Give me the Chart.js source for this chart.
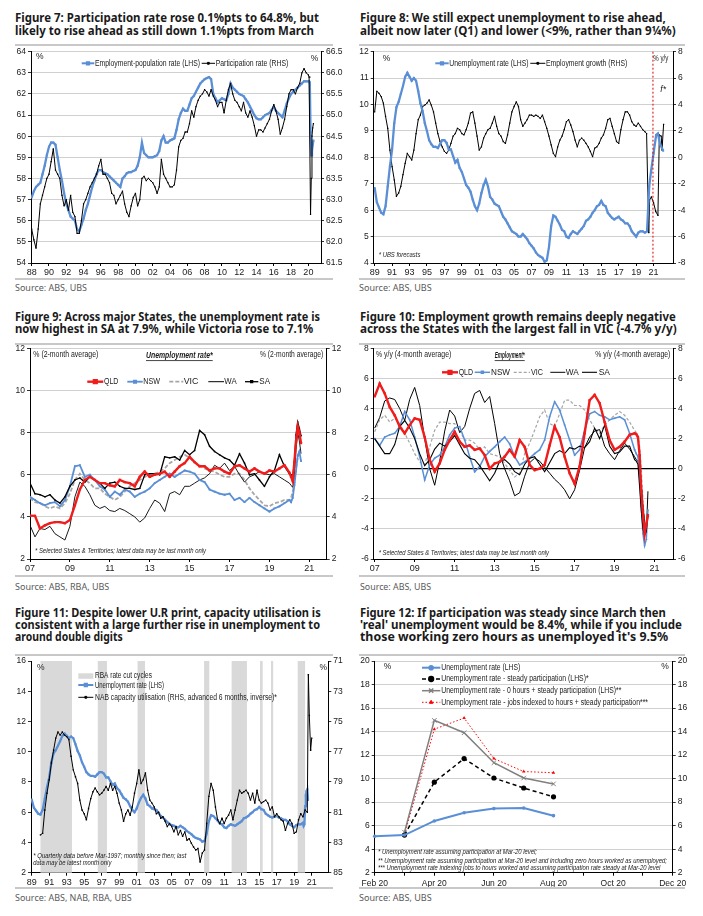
<!DOCTYPE html>
<html lang="en">
<head>
<meta charset="UTF-8">
<title>Australian labour market charts</title>
<script src="https://cdn.jsdelivr.net/npm/chart.js"></script>
<style>
  body { margin: 0; background: #fff; }
  #page { position: relative; width: 703px; height: 916px; overflow: hidden; background: #fff; }
  .title { position: absolute; font-family: 'Noto Sans', Arial, sans-serif; font-weight: 700; font-size: 12.5px; line-height: 14px; color: #1a1a1a; white-space: nowrap; transform-origin: 0 50%; }
  .src { position: absolute; font-family: 'Noto Sans', Arial, sans-serif; font-weight: 400; font-size: 9.5px; line-height: 12px; color: #5a5a5a; white-space: nowrap; transform-origin: 0 50%; }
  .rule { position: absolute; height: 2px; background: #c8c8c8; }
  canvas { position: absolute; }
</style>
</head>
<body>
<div id="page"></div>
<script>
// ---------- Figure 7: quarterly from 1988 Q1, then monthly 2020 ----------
var f7Ticks = [1988, 1990, 1992, 1994, 1996, 1998, 2000, 2002, 2004, 2006, 2008, 2010, 2012, 2014, 2016, 2018, 2020];
var f7EmpPop = [
  57.1, 57.4, 57.6, 57.7, 57.8, 58.2, 58.6, 59.1, 59.5, 59.7, 59.7, 59.6, 59.0, 58.4, 57.9, 57.3,
  56.8, 56.5, 56.2, 56.1, 56.0, 55.6, 55.5, 55.8, 56.1, 56.5, 56.8, 57.2, 57.6, 57.9, 58.2, 58.4,
  58.4, 58.3, 58.25, 58.2, 58.1, 58.0, 57.9, 57.8, 57.7, 57.6, 58.0, 58.1, 58.25, 58.3, 58.3, 58.35,
  58.4, 58.6, 59.0, 59.7, 59.2, 59.1, 59.0, 59.0, 59.0, 59.05, 59.1, 59.3, 59.8, 60.0, 59.7, 59.7,
  59.8, 59.85, 59.9, 60.3, 60.8, 61.1, 61.3, 61.2, 61.2, 61.5, 61.8, 61.9, 62.1, 62.3, 62.5, 62.6,
  62.7, 62.75, 62.8, 62.7, 62.0, 61.8, 61.6, 61.7, 61.8, 61.75, 61.7, 62.0, 62.5, 62.3, 62.2, 62.1,
  62.0, 61.95, 61.9, 61.75, 61.6, 61.4, 61.2, 61.0, 60.85, 60.8, 60.8, 60.9, 61.0, 61.05, 61.1, 61.25,
  61.4, 61.2, 61.1, 61.0, 60.9, 61.2, 61.55, 61.8, 62.0, 62.1, 62.2, 62.3, 62.4, 62.5, 62.6, 62.6
];
var f7EmpPop2020 = [62.6, 62.6, 62.5, 60.2, 59.1, 59.3, 59.6, 59.8];
var f7Part = [
  62.3, 62.05, 61.85, 62.3, 62.9, 63.1, 63.3, 63.5, 63.6, 63.9, 64.2, 63.7, 63.6, 63.5, 63.1, 62.85,
  63.0, 62.75, 63.1, 62.7, 62.6, 62.2, 62.2, 62.5, 62.9, 63.0, 63.15, 63.3, 63.4, 63.5, 63.6, 63.8,
  63.95, 63.6, 63.6, 63.5, 63.4, 63.15, 63.1, 62.9, 63.0, 63.1, 63.2, 62.9, 62.7, 62.6, 62.85, 63.05,
  63.15, 62.85, 63.0, 63.5, 63.55, 63.45, 63.5, 63.45, 63.4, 63.3, 63.15, 63.3, 63.95, 63.6, 63.5, 63.4,
  63.3, 63.3, 63.35, 63.7, 64.25, 64.4, 64.45, 64.6, 64.6, 64.8, 65.1, 64.95, 65.2, 65.35, 65.45, 65.5,
  65.6, 65.55, 65.45, 65.6, 65.45, 65.35, 65.2, 65.3, 65.3, 65.05, 65.35, 65.6, 65.75, 65.5, 65.35, 65.3,
  65.2, 65.1, 65.3, 65.05, 64.95, 65.1, 64.95, 64.75, 64.5, 64.65, 64.65, 64.6, 64.7, 64.8, 64.9, 65.1,
  65.25, 65.1, 64.9, 64.55, 64.7, 64.9, 65.2, 65.5, 65.6, 65.6, 65.5, 65.65, 65.75, 66.0, 66.1, 66.0
];
var f7Part2020 = [65.95, 65.9, 65.9, 62.65, 63.5, 64.5, 64.7, 64.8];

// ---------- Figure 8: quarterly from 1989 Q1, then 2020+ incl. forecasts ----------
var f8Ticks = [1989, 1991, 1993, 1995, 1997, 1999, 2001, 2003, 2005, 2007, 2009, 2011, 2013, 2015, 2017, 2019, 2021];
var f8Ur = [
  6.84, 6.3, 6.1, 5.9, 5.85, 6.15, 6.9, 7.65, 8.3, 9.3, 9.9, 10.1, 10.4, 10.7, 11.05, 11.2,
  11.05, 10.9, 11.0, 10.9, 10.5, 10.05, 9.75, 9.3, 9.0, 8.65, 8.5, 8.4, 8.4, 8.35, 8.5, 8.65,
  8.65, 8.55, 8.3, 8.3, 8.05, 7.8, 7.9, 7.6, 7.45, 7.2, 6.95, 6.85, 6.7, 6.4, 6.15, 6.0,
  6.25, 6.65, 6.95, 7.15, 6.9, 6.5, 6.4, 6.25, 6.2, 6.15, 5.95, 5.75, 5.65, 5.5, 5.35, 5.2,
  5.15, 5.1, 5.0, 5.0, 5.1, 5.0, 4.9, 4.75, 4.65, 4.55, 4.4, 4.3, 4.25, 4.2, 4.05, 4.1,
  4.6, 5.4, 5.8, 5.75, 5.6, 5.45, 5.25, 5.2, 5.0, 4.95, 5.1, 5.2, 5.15, 5.1, 5.2, 5.3,
  5.4, 5.6, 5.65, 5.75, 5.9, 6.0, 6.15, 6.2, 6.35, 6.2, 6.15, 5.9, 5.8, 5.7, 5.65, 5.7,
  5.75, 5.65, 5.6, 5.5, 5.5, 5.4, 5.2, 5.1, 5.0, 5.15, 5.2, 5.2
];
var f8UrTailX = [2020.0, 2020.25, 2020.5, 2020.72, 2021.0, 2021.3, 2021.5, 2021.75, 2022.1];
var f8UrTail = [5.15, 5.2, 6.9, 7.5, 8.15, 8.85, 8.9, 8.5, 8.25];
var f8Emp = [
  3.45, 5.0, 4.85, 4.6, 4.1, 3.1, 2.2, 0.55, -0.7, -1.7, -2.95, -2.7, -2.2, -1.3, -0.45, 0.3,
  0.05, -0.2, 0.55, 1.8, 2.85, 3.2, 3.85, 3.95, 4.1, 4.35, 3.95, 3.45, 2.6, 1.8, 1.2, 0.8,
  0.45, 0.3, 0.55, 1.05, 1.6, 1.8, 2.2, 2.1, 1.8, 1.7, 2.1, 2.6, 3.35, 3.45, 2.6, 1.6,
  0.55, 0.8, 1.45, 1.8, 2.1, 2.2, 2.6, 3.1, 2.35, 1.8, 1.6, 1.2, 1.05, 1.7, 2.6, 3.45,
  3.85, 4.2, 3.85, 2.85, 2.35, 2.6, 2.85, 3.2, 3.2, 3.1, 3.2, 3.1, 2.95, 3.2, 2.7, 2.2,
  1.6, 0.95, 0.3, 0.05, 0.8, 1.3, 1.6, 2.1, 2.7, 2.85, 2.45, 1.95, 1.3, 0.8, 1.3, 1.45,
  1.3, 1.05, 0.8, 0.45, 0.05, 0.7, 0.8, 1.05, 1.45, 1.7, 2.2, 2.85, 2.95, 2.35, 1.8, 1.2,
  1.05, 2.1, 2.85, 3.45, 3.45, 3.2, 2.7, 2.45, 2.35, 2.6, 2.35, 2.1
];
var f8EmpTailX = [2020.0, 2020.2, 2020.45, 2020.55, 2020.75, 2021.0, 2021.25, 2021.5, 2021.66, 2021.88, 2021.97, 2022.15];
var f8EmpTail = [1.95, 1.8, -5.7, -3.2, -3.0, -3.45, -4.1, -4.4, 1.7, 1.6, 0.55, 2.5];
var f8ForecastStart = 2020.93;

// ---------- Figure 9: quarterly from 2007 Q1, then monthly 2020 ----------
var f9Ticks = [2007, 2009, 2011, 2013, 2015, 2017, 2019, 2021];
var f9Qld = [4.06, 4.05, 3.45, 3.6, 3.7, 3.75, 3.75, 3.7, 3.85, 4.55, 5.3, 5.75, 5.9, 5.75, 5.6, 5.6,
  5.5, 5.45, 5.75, 5.65, 5.6, 5.45, 5.9, 6.15, 5.9, 6.0, 6.05, 6.15, 5.9, 6.15, 6.4, 6.55,
  6.85, 6.6, 6.4, 6.4, 6.2, 6.3, 6.3, 6.15, 6.05, 6.4, 6.45, 6.3, 6.15, 6.3, 6.15, 6.05,
  6.2, 6.15, 6.3, 6.45];
var f9Qld2020 = [6.1, 5.9, 5.7, 6.6, 7.6, 8.3, 8.0, 7.5];
var f9Nsw = [4.95, 4.8, 4.65, 4.55, 4.65, 4.7, 4.5, 4.8, 5.45, 6.4, 6.45, 5.9, 6.0, 5.75, 5.45, 5.3,
  4.95, 5.2, 5.05, 5.3, 5.2, 4.95, 5.1, 5.2, 5.35, 5.6, 5.75, 5.9, 6.05, 5.9, 6.05, 6.2,
  6.15, 6.05, 5.75, 5.65, 5.3, 5.2, 5.1, 5.05, 5.1, 4.8, 4.9, 4.7, 4.9, 4.7, 4.55, 4.4,
  4.25, 4.4, 4.5, 4.65];
var f9Nsw2020 = [4.8, 4.7, 4.9, 5.5, 6.2, 6.9, 7.1, 6.65];
var f9Vic = [4.9, 4.7, 4.65, 4.5, 4.4, 4.5, 4.4, 4.65, 5.1, 5.75, 6.05, 5.75, 5.6, 5.35, 5.35, 5.1,
  4.95, 4.8, 4.95, 5.2, 5.45, 5.6, 5.75, 5.9, 6.0, 6.05, 6.15, 6.3, 6.55, 6.7, 6.85, 6.95,
  6.8, 6.6, 6.45, 6.3, 6.2, 6.15, 6.0, 5.9, 5.9, 6.05, 6.05, 5.75, 5.35, 5.05, 4.8, 4.55,
  4.5, 4.65, 4.7, 4.8];
var f9Vic2020 = [4.8, 4.9, 5.2, 5.6, 6.3, 6.8, 7.1, 7.1];
var f9Wa = [3.6, 3.05, 3.45, 3.4, 3.55, 3.2, 3.05, 2.9, 3.55, 4.95, 5.65, 5.45, 5.05, 4.55, 4.4, 4.5,
  4.3, 4.25, 4.4, 4.3, 4.15, 4.0, 3.75, 3.95, 4.4, 4.8, 4.65, 4.25, 5.1, 5.2, 5.05, 5.45,
  5.45, 5.6, 5.75, 5.85, 6.05, 6.45, 6.3, 6.55, 6.2, 6.4, 6.0, 5.65, 5.9, 6.0, 6.15, 6.05,
  6.0, 6.05, 5.9, 5.75];
var f9Wa2020 = [5.6, 5.5, 5.4, 6.0, 7.2, 8.0, 7.6, 7.0];
var f9Sa = [5.6, 5.1, 5.05, 4.95, 5.05, 4.8, 4.65, 4.95, 5.45, 5.75, 5.85, 5.65, 5.9, 5.75, 5.6, 5.35,
  5.6, 5.65, 5.45, 5.35, 5.35, 5.3, 5.35, 6.0, 6.05, 6.05, 6.0, 6.85, 6.8, 6.85, 6.7, 7.15,
  6.95, 7.15, 8.1, 7.9, 7.35, 7.1, 6.95, 6.8, 6.7, 6.45, 7.0, 6.55, 6.0, 6.05, 5.75, 5.45,
  5.9, 6.2, 6.95, 6.4];
var f9Sa2020 = [6.05, 6.0, 5.9, 6.6, 7.9, 8.5, 8.2, 7.85];

// ---------- Figure 10: quarterly from 2007 Q1, then monthly 2020 (Jan-Sep) ----------
var f10Qld = [4.8, 5.65, 5.0, 4.1, 3.55, 2.8, 2.35, 2.9, 3.35, 3.25, 2.1, 0.6, -0.2, 0.35, 1.25, 1.9,
  2.45, 1.8, 1.45, 1.55, 1.25, 1.35, 0.9, 0.0, 0.35, 0.45, 0.8, 1.25, 0.8, 1.9, 1.45, 0.25,
  -0.1, 0.0, 0.25, 1.55, 2.8, 2.1, 0.8, -0.3, -1.0, 0.15, 2.35, 4.55, 4.9, 4.35, 3.1, 1.9,
  1.25, 1.45, 1.8, 2.25];
var f10Qld2020 = [2.35, 2.3, 2.1, 0.9, -1.5, -3.0, -4.35, -3.7, -3.1];
var f10Nsw = [2.0, 1.55, 2.1, 2.25, 2.35, 2.8, 3.8, 3.25, 2.1, 0.8, -0.75, 0.25, 0.7, 0.9, 1.45, 2.25,
  2.7, 2.8, 1.9, 0.8, -0.2, 0.15, 0.8, 1.15, 1.45, 1.8, 2.1, 1.65, 0.8, 0.25, 0.45, 0.7,
  1.0, 1.25, 1.9, 3.45, 4.45, 3.9, 2.9, 1.9, 0.9, 1.25, 2.55, 3.65, 3.8, 3.55, 3.45, 3.25,
  3.35, 3.45, 3.25, 2.35];
var f10Nsw2020 = [1.25, 1.0, 0.8, -0.5, -2.5, -4.3, -5.1, -4.7, -2.75];
var f10Vic = [2.45, 3.25, 3.55, 3.1, 3.35, 3.0, 2.35, 1.7, 1.0, 0.45, 0.25, 1.45, 2.55, 3.1, 3.1, 3.0,
  3.0, 2.55, 1.9, 1.9, 1.7, 1.25, 1.45, 1.0, 0.9, 0.8, 0.35, -0.1, -0.55, -0.3, 1.0, 1.7,
  2.55, 3.45, 3.9, 3.0, 2.8, 3.65, 4.55, 4.55, 4.2, 4.2, 3.9, 3.25, 2.7, 2.35, 2.9, 3.25,
  3.55, 3.8, 3.55, 3.1];
var f10Vic2020 = [2.55, 2.4, 2.2, 1.5, 0.0, -2.0, -3.5, -4.5, -4.7];
var f10Wa = [2.7, 3.4, 4.5, 4.7, 4.6, 4.0, 3.2, 4.6, 5.4, 4.2, 2.0, 0.0, -1.1, 0.5, 2.5, 3.9,
  3.5, 2.4, 2.8, 4.0, 5.0, 5.2, 4.4, 4.8, 3.0, 1.0, 0.0, -0.8, -1.8, -1.6, -0.5, 0.4,
  0.7, 0.5, 0.1, -0.3, -0.7, -1.0, -1.4, -2.0, -1.4, -0.1, 1.4, 2.1, 2.5, 2.6, 1.5, 1.0,
  0.6, 1.2, 1.7, 1.3];
var f10Wa2020 = [0.8, 0.6, 0.5, 0.3, -1.0, -2.5, -3.5, -4.3, -1.5];
var f10Sa = [2.0, 1.5, 1.0, 1.0, 1.6, 2.8, 3.2, 2.7, 2.0, 1.0, 0.2, 0.6, 1.3, 1.7, 1.5, 1.8,
  2.2, 1.6, 1.0, 0.7, 0.6, 0.2, -0.3, -0.8, -0.3, 0.5, 0.6, 0.3, -0.2, -0.4, 0.3, 0.7,
  0.8, 0.3, -0.2, 0.4, 1.0, 1.2, 1.0, 1.4, 1.3, 1.5, 1.4, 1.8, 2.7, 2.0, 2.9, 1.5,
  1.0, 1.1, 1.5, 1.5];
var f10Sa2020 = [0.6, 0.5, 0.3, -1.2, -2.8, -4.0, -4.4, -4.2, -3.0];

// ---------- Figure 11 ----------
var f11Ticks = [1989, 1991, 1993, 1995, 1997, 1999, 2001, 2003, 2005, 2007, 2009, 2011, 2013, 2015, 2017, 2019, 2021];
var f11RateCuts = [[1990.0, 1993.6], [1996.55, 1997.6], [2001.1, 2001.95], [2008.7, 2009.3],
  [2011.85, 2013.6], [2015.1, 2015.4], [2016.35, 2016.6], [2019.4, 2020.25]];
var f11Ur2020 = [5.3, 5.1, 5.2, 6.4, 7.1, 7.4, 7.5, 6.8];
var f11Nab = [ // quarterly from 1990 Q1
  82.5, 82.4, 80.85, 79.75, 78.85, 77.75, 76.9, 76.1, 75.7, 75.9, 75.7, 75.9, 76.0, 76.2, 77.3, 78.2,
  78.65, 79.1, 80.2, 80.85, 81.1, 81.5, 80.75, 80.1, 79.65, 79.4, 79.65, 79.85, 79.75, 79.55, 79.3, 79.55,
  79.1, 79.55, 79.3, 79.75, 80.4, 80.85, 81.6, 81.1, 80.85, 81.2, 80.65, 79.75, 79.1, 78.2, 79.1, 78.85,
  78.4, 79.55, 80.2, 80.4, 80.65, 81.1, 81.0, 81.4, 81.3, 81.6, 81.95, 81.75, 81.95, 82.3, 81.95, 82.5,
  82.2, 82.6, 82.3, 82.85, 82.75, 83.05, 83.3, 83.5, 83.4, 84.3, 83.7, 83.5, 81.75, 79.95, 79.1, 79.55,
  80.65, 81.5, 81.75, 81.4, 81.75, 81.4, 81.2, 80.85, 81.5, 80.85, 80.2, 79.55, 79.75, 79.65, 79.55, 79.75,
  80.2, 79.75, 80.4, 79.55, 80.2, 80.4, 80.3, 80.2, 80.4, 80.85, 80.65, 81.3, 81.1, 81.3, 81.5, 81.6,
  82.2, 81.75, 81.5, 81.75, 82.4, 82.3, 81.5, 81.1, 81.3, 80.85
];
var f11NabTailX = [2020.5, 2020.62, 2020.73, 2020.88, 2021.0];
var f11NabTail = [81.0, 71.9, 74.6, 76.9, 76.1];

// ---------- Figure 12 ----------
var f12Months = ['Feb 20', 'Mar 20', 'Apr 20', 'May 20', 'Jun 20', 'Jul 20', 'Aug 20', 'Sep 20', 'Oct 20', 'Nov 20', 'Dec 20'];
var f12Ur = [5.1, 5.2, 6.4, 7.1, 7.45, 7.5, 6.85, null, null, null, null];
var f12Steady = [null, 5.2, 9.7, 11.7, 10.05, 9.2, 8.45, null, null, null, null];
var f12ZeroHours = [null, 5.45, 14.95, 13.9, 11.35, 10.05, 9.55, null, null, null, null];
var f12Indexed = [null, 5.25, 14.2, 15.15, 11.7, 10.6, 10.5, null, null, null, null];

// ---------- helpers ----------
var BLUE = '#5a8fd6', RED = '#f01c1c', GREY = '#a6a6a6', GRID = '#c4c4c4';
var FONT = '"Liberation Sans", Arial, sans-serif';
var page = document.getElementById('page');

function quarterly(start, vals) { return vals.map(function (v, i) { return { x: start + i / 4, y: v }; }); }
function monthly(start, vals) { return vals.map(function (v, i) { return { x: start + i / 12, y: v }; }); }
function paired(xs, ys) { return xs.map(function (x, i) { return { x: x, y: ys[i] }; }); }

function series(data, color, width, axis, extra) {
  var d = { data: data, borderColor: color, backgroundColor: color, borderWidth: width, yAxisID: axis || 'y',
    pointRadius: 0, pointBorderWidth: 0, pointBackgroundColor: color, pointStyle: 'rect', tension: 0, fill: false };
  return Object.assign(d, extra || {});
}

function yAxis(pos, min, max, step, w, opt) {
  opt = opt || {};
  return {
    type: 'linear', position: pos, min: min, max: max, reverse: !!opt.reverse,
    ticks: { stepSize: step, color: '#1a1a1a', padding: 2, font: { family: FONT, size: 8.5 },
      callback: opt.fmt || function (v) { return v; } },
    grid: { drawOnChartArea: !!opt.grid, color: opt.gridColor || GRID, lineWidth: opt.gridWidth || 0.8,
      tickLength: 3, tickColor: '#000' },
    border: { display: true, color: '#000', width: 1 },
    afterFit: function (s) { s.width = w; s.paddingTop = 0; s.paddingBottom = 0; }
  };
}

function xYears(min, max, ticks, h) {
  return {
    type: 'linear', min: min, max: max,
    afterBuildTicks: function (s) { s.ticks = ticks.map(function (v) { return { value: v }; }); },
    ticks: { autoSkip: false, maxRotation: 0, color: '#1a1a1a', padding: 1, font: { family: FONT, size: 9 },
      callback: function (v) { return String(Math.round(v) % 100).padStart(2, '0'); } },
    grid: { drawOnChartArea: false, tickLength: 3, tickColor: '#000' },
    border: { display: true, color: '#000', width: 1 },
    afterFit: function (s) { s.height = h; s.paddingLeft = 0; s.paddingRight = 0; }
  };
}

// page-coordinate decorations: texts, legend samples, boxes
function decoPlugin(items, ox, oy) {
  return {
    id: 'deco',
    afterDraw: function (chart) {
      var c = chart.ctx;
      items.forEach(function (it) {
        c.save();
        if (it.box) {
          c.fillStyle = it.color;
          c.fillRect(it.box[0] - ox, it.box[1] - oy, it.box[2], it.box[3]);
        }
        if (it.line) {
          var x1 = it.line[0] - ox, y = it.line[1] - oy, x2 = it.line[2] - ox;
          c.strokeStyle = it.color; c.lineWidth = it.width || 1; c.setLineDash(it.dash || []);
          c.beginPath(); c.moveTo(x1, y); c.lineTo(x2, y); c.stroke();
          if (it.marker) {
            c.setLineDash([]); c.fillStyle = it.color; c.strokeStyle = it.color;
            Chart.helpers.drawPoint(c, { pointStyle: it.marker, radius: it.mr || 2, borderWidth: 1, rotation: 0 }, (x1 + x2) / 2, y);
          }
        }
        if (it.text !== undefined) {
          c.font = (it.italic ? 'italic ' : '') + (it.bold ? 'bold ' : '') + (it.size || 8.5) + 'px ' + FONT;
          c.fillStyle = it.color || '#1a1a1a';
          c.textBaseline = 'middle'; c.textAlign = 'left';
          var nat = c.measureText(it.text).width;
          var k = it.w ? it.w / nat : 1;
          c.translate(it.x - ox, it.y - oy); c.scale(k, 1);
          c.fillText(it.text, 0, 0);
          if (it.underline) c.fillRect(0, (it.size || 8.5) * 0.5, nat, 0.8);
        }
        c.restore();
      });
    }
  };
}

function makeChart(o) {
  var cv = document.createElement('canvas');
  cv.width = o.box.w; cv.height = o.box.h;
  cv.style.left = o.box.x + 'px'; cv.style.top = o.box.y + 'px';
  cv.style.width = o.box.w + 'px'; cv.style.height = o.box.h + 'px';
  page.appendChild(cv);
  var p = o.plot;
  var leftW = p.l - o.box.x, rightW = o.box.x + o.box.w - p.r, botH = o.box.y + o.box.h - p.b;
  var scales = { x: o.x(botH), y: o.y(leftW), y2: o.y2(rightW) };
  var plugins = [decoPlugin(o.deco, o.box.x, o.box.y)].concat(o.extra || []);
  return new Chart(cv, {
    type: 'line',
    data: { labels: o.labels, datasets: o.datasets },
    options: {
      responsive: false, animation: false, events: [],
      layout: { autoPadding: false, padding: { top: p.t - o.box.y, left: 0, right: 0, bottom: 0 } },
      plugins: { legend: { display: false }, tooltip: { enabled: false } },
      scales: scales
    },
    plugins: plugins
  });
}

// ---------- titles, rules, sources ----------
function placeText(cls, list) {
  list.forEach(function (t) {
    var d = document.createElement('div');
    d.className = cls; d.textContent = t[0];
    page.appendChild(d);
    var r = d.getBoundingClientRect();
    d.style.left = t[1] + 'px'; d.style.top = (t[2] - r.height / 2) + 'px';
    d.style.transform = 'scaleX(' + (t[3] / r.width).toFixed(4) + ')';
  });
}
placeText('title', [
  ['Figure 7: Participation rate rose 0.1%pts to 64.8%, but', 15, 18.3, 304],
  ['likely to rise ahead as still down 1.1%pts from March', 15, 31, 299],
  ['Figure 8: We still expect unemployment to rise ahead,', 360.3, 18.3, 305.7],
  ['albeit now later (Q1) and lower (<9%, rather than 9\u00bc%)', 360.3, 31, 315.7],
  ['Figure 9: Across major States, the unemployment rate is', 15, 316.7, 305],
  ['now highest in SA at 7.9%, while Victoria rose to 7.1%', 15, 329, 298.3],
  ['Figure 10: Employment growth remains deeply negative', 360.3, 316.7, 315.7],
  ['across the States with the largest fall in VIC (-4.7% y/y)', 360.3, 329, 316.7],
  ['Figure 11: Despite lower U.R print, capacity utilisation is', 15, 613, 305.7],
  ['consistent with a large further rise in unemployment to', 15, 625.3, 305],
  ['around double digits', 15, 637.3, 107.7],
  ['Figure 12: If participation was steady since March then', 360.3, 613, 305.7],
  ["'real' unemployment would be 8.4%, while if you include", 360.3, 625.3, 322],
  ["those working zero hours as unemployed it's 9.5%", 360.3, 637.3, 308.3]
]);
placeText('src', [
  ['Source:  ABS, UBS', 15, 288.3, 72],
  ['Source:  ABS, UBS', 359, 288.3, 72.7],
  ['Source:  ABS, RBA, UBS', 15, 587, 94.3],
  ['Source:  ABS, UBS', 360.3, 586.7, 71],
  ['Source:  ABS, NAB, RBA, UBS', 15, 898.3, 116.7],
  ['Source:  ABS, UBS', 358.7, 898.3, 72.7]
]);
[[15, 44, 318.3], [358.7, 44, 326.6], [15, 278.3, 318.3], [358.7, 278.3, 326.6],
 [15, 342.7, 318.3], [358.7, 342.7, 326.6], [15, 575.3, 318.3], [358.7, 575.3, 326.6],
 [15, 654, 318.3], [358.7, 654, 326.6], [15, 887.3, 318.3], [358.7, 887.3, 326.6]].forEach(function (r) {
  var d = document.createElement('div');
  d.className = 'rule';
  d.style.left = r[0] + 'px'; d.style.top = r[1] + 'px'; d.style.width = r[2] + 'px';
  page.appendChild(d);
});

// ---------- Figure 7 ----------
makeChart({
  box: { x: 0, y: 46, w: 352, h: 232 }, plot: { l: 31, t: 51.7, r: 321, b: 263 },
  datasets: [
    series(quarterly(1988, f7Part).concat(monthly(2020, f7Part2020)), '#000', 1, 'y2', { pointRadius: 0.9 }),
    series(quarterly(1988, f7EmpPop).concat(monthly(2020, f7EmpPop2020)), BLUE, 2.3, 'y', { pointRadius: 1.4 })
  ],
  x: function (h) { return xYears(1987.92, 2021.46, f7Ticks, h); },
  y: function (w) { return yAxis('left', 54, 64, 1, w, { grid: true }); },
  y2: function (w) { return yAxis('right', 61.5, 66.5, 0.5, w, { fmt: function (v) { return v.toFixed(1); } }); },
  deco: [
    { text: '%', x: 36, y: 57, size: 8.5 },
    { text: '%', x: 310.7, y: 58.3, size: 8.5 },
    { line: [81.7, 63.3, 94.3], color: BLUE, width: 2, marker: 'rect', mr: 1.6 },
    { text: 'Employment-population rate (LHS)', x: 95, y: 63.3, w: 105 },
    { line: [201.7, 63.3, 215], color: '#000', width: 1, marker: 'rect', mr: 1.3 },
    { text: 'Participation rate (RHS)', x: 215.7, y: 63.3, w: 72.6 }
  ]
});

// ---------- Figure 8 ----------
makeChart({
  box: { x: 352, y: 46, w: 351, h: 232 }, plot: { l: 373.7, t: 51.7, r: 673, b: 263 },
  datasets: [
    series(quarterly(1989, f8Ur).concat(paired(f8UrTailX, f8UrTail)), BLUE, 2.3, 'y', { pointRadius: 1.4 }),
    series(quarterly(1989, f8Emp).concat(paired(f8EmpTailX, f8EmpTail)), '#000', 1, 'y2', { pointRadius: 0.9 })
  ],
  x: function (h) { return xYears(1988.89, 2023.23, f8Ticks, h); },
  y: function (w) { return yAxis('left', 4, 12, 1, w, { grid: true }); },
  y2: function (w) { return yAxis('right', -8, 8, 2, w); },
  extra: [{
    id: 'forecastLine',
    afterDatasetsDraw: function (chart) {
      var c = chart.ctx, a = chart.chartArea, px = chart.scales.x.getPixelForValue(f8ForecastStart);
      c.save(); c.strokeStyle = '#e00000'; c.lineWidth = 1; c.setLineDash([2, 2]);
      c.beginPath(); c.moveTo(px, a.top); c.lineTo(px, a.bottom); c.stroke(); c.restore();
    }
  }],
  deco: [
    { text: '%', x: 382.7, y: 59 },
    { text: '% y/y', x: 653.3, y: 59, w: 15 },
    { text: 'f*', x: 660.3, y: 90, italic: true },
    { line: [435.3, 63.3, 448.7], color: BLUE, width: 2, marker: 'rect', mr: 1.6 },
    { text: 'Unemployment rate (LHS)', x: 449.3, y: 63.3, w: 79.3 },
    { line: [530.3, 63.3, 545.3], color: '#000', width: 1, marker: 'rect', mr: 1.3 },
    { text: 'Employment growth (RHS)', x: 546, y: 63.3, w: 81.3 },
    { text: '* UBS forecasts', x: 378.7, y: 255, size: 7, italic: true, w: 41.7 }
  ]
});

// ---------- Figure 9 ----------
makeChart({
  box: { x: 0, y: 344, w: 352, h: 232 }, plot: { l: 30, t: 348.3, r: 326.7, b: 559 },
  datasets: [
    series(quarterly(2007, f9Qld).concat(monthly(2020, f9Qld2020)), RED, 2.4, 'y', { pointRadius: 1.6 }),
    series(quarterly(2007, f9Sa).concat(monthly(2020, f9Sa2020)), '#000', 1.3, 'y', { pointRadius: 1 }),
    series(quarterly(2007, f9Nsw).concat(monthly(2020, f9Nsw2020)), BLUE, 1.8, 'y', { pointRadius: 1.3 }),
    series(quarterly(2007, f9Wa).concat(monthly(2020, f9Wa2020)), '#000', 0.9, 'y'),
    series(quarterly(2007, f9Vic).concat(monthly(2020, f9Vic2020)), GREY, 1.8, 'y', { borderDash: [4, 2] })
  ],
  x: function (h) { return xYears(2007, 2021.87, f9Ticks, h); },
  y: function (w) { return yAxis('left', 2, 12, 2, w, { grid: true }); },
  y2: function (w) { return yAxis('right', 2, 12, 2, w); },
  deco: [
    { text: '% (2-month average)', x: 33.3, y: 355, w: 65 },
    { text: '% (2-month average)', x: 260, y: 355, w: 63.3 },
    { text: 'Unemployment rate*', x: 146, y: 356, bold: true, italic: true, underline: true, w: 66.7 },
    { line: [87.3, 381.7, 103.3], color: RED, width: 2.4, marker: 'rect', mr: 2 },
    { text: 'QLD', x: 104, y: 381.7, w: 14.3 },
    { line: [127.3, 381.7, 142.7], color: BLUE, width: 1.8, marker: 'rect', mr: 1.6 },
    { text: 'NSW', x: 143.3, y: 381.7, w: 16.7 },
    { line: [169.3, 381.7, 183.3], color: GREY, width: 1.8, dash: [4, 2] },
    { text: 'VIC', x: 183.7, y: 381.7, w: 14.7 },
    { line: [208.3, 381.7, 224], color: '#000', width: 1 },
    { text: 'WA', x: 224.3, y: 381.7, w: 12.3 },
    { line: [245, 381.7, 258.3], color: '#000', width: 1.3, marker: 'rect', mr: 1.4 },
    { text: 'SA', x: 259.3, y: 381.7, w: 10.7 },
    { text: '* Selected States & Territories; latest data may be last month only', x: 35, y: 550.7, size: 7, italic: true, w: 171 }
  ]
});

// ---------- Figure 10 ----------
makeChart({
  box: { x: 352, y: 344, w: 351, h: 232 }, plot: { l: 373.7, t: 348.3, r: 673, b: 559 },
  datasets: [
    series(quarterly(2007, f10Qld).concat(monthly(2020, f10Qld2020)), RED, 2.4, 'y', { pointRadius: 1.6 }),
    series(quarterly(2007, f10Sa).concat(monthly(2020, f10Sa2020)), '#000', 1.1, 'y'),
    series(quarterly(2007, f10Nsw).concat(monthly(2020, f10Nsw2020)), BLUE, 1.5, 'y', { pointRadius: 1.1 }),
    series(quarterly(2007, f10Wa).concat(monthly(2020, f10Wa2020)), '#000', 1, 'y'),
    series(quarterly(2007, f10Vic).concat(monthly(2020, f10Vic2020)), GREY, 1.2, 'y', { borderDash: [3, 2] })
  ],
  x: function (h) { return xYears(2006.95, 2021.92, f9Ticks, h); },
  y: function (w) {
    return yAxis('left', -6, 8, 2, w, { grid: true,
      gridColor: function (c) { return c.tick && c.tick.value === 0 ? '#000' : GRID; },
      gridWidth: function (c) { return c.tick && c.tick.value === 0 ? 1.2 : 0.8; } });
  },
  y2: function (w) { return yAxis('right', -6, 8, 2, w); },
  deco: [
    { text: '% y/y (4-month average)', x: 376, y: 355, w: 75.3 },
    { text: '% y/y (4-month average)', x: 595.3, y: 355, w: 75 },
    { text: 'Employment*', x: 494.7, y: 356, bold: true, italic: true, underline: true, w: 30 },
    { line: [442, 372.3, 458], color: RED, width: 2.4, marker: 'rect', mr: 2 },
    { text: 'QLD', x: 458.7, y: 372.3, w: 14.3 },
    { line: [474.7, 372.3, 490], color: BLUE, width: 1.5, marker: 'rect', mr: 1.4 },
    { text: 'NSW', x: 491, y: 372.3, w: 19 },
    { line: [513.7, 372.3, 530], color: GREY, width: 1.2, dash: [3, 2] },
    { text: 'VIC', x: 531, y: 372.3, w: 12 },
    { line: [550.3, 372.3, 565.3], color: '#000', width: 1 },
    { text: 'WA', x: 565.7, y: 372.3, w: 13 },
    { line: [582, 372.3, 597], color: '#000', width: 1.1 },
    { text: 'SA', x: 598.7, y: 372.3, w: 11.3 },
    { text: '* Selected States & Territories; latest data may be last month only', x: 378.7, y: 552.7, size: 7, italic: true, w: 170.3 }
  ]
});

// ---------- Figure 11 ----------
makeChart({
  box: { x: 0, y: 656, w: 352, h: 231 }, plot: { l: 31, t: 661, r: 328.3, b: 872.7 },
  datasets: [
    series(quarterly(1990, f11Nab).concat(paired(f11NabTailX, f11NabTail)), '#000', 1, 'y2', { pointRadius: 1 }),
    series(quarterly(1989, f8Ur).concat(monthly(2020, f11Ur2020)), BLUE, 2.3, 'y', { pointRadius: 1.4 })
  ],
  x: function (h) { return xYears(1988.92, 2022.9, f11Ticks, h); },
  y: function (w) { return yAxis('left', 2, 16, 2, w); },
  y2: function (w) { return yAxis('right', 71, 85, 2, w, { reverse: true }); },
  extra: [{
    id: 'rateCuts',
    beforeDatasetsDraw: function (chart) {
      var c = chart.ctx, a = chart.chartArea, sx = chart.scales.x;
      c.save(); c.fillStyle = '#d9d9d9';
      f11RateCuts.forEach(function (r) {
        var x1 = sx.getPixelForValue(r[0]), x2 = sx.getPixelForValue(r[1]);
        c.fillRect(x1, a.top, x2 - x1, a.bottom - a.top);
      });
      c.restore();
    }
  }],
  deco: [
    { text: '%', x: 37, y: 668 },
    { text: '%', x: 319.5, y: 668 },
    { box: [78.3, 673.3, 15, 5.5], color: '#d9d9d9' },
    { text: 'RBA rate cut cycles', x: 95, y: 676, w: 57 },
    { line: [78.3, 685, 93.3], color: BLUE, width: 2, marker: 'rect', mr: 1.6 },
    { text: 'Unemployment rate (LHS)', x: 95, y: 685.5, w: 69 },
    { line: [78.3, 697.3, 93.3], color: '#000', width: 1, marker: 'rect', mr: 1.3 },
    { text: 'NAB capacity utilisation (RHS, advanced 6 months, inverse)*', x: 95, y: 697.3, w: 182 },
    { text: '* Quarterly data before Mar-1997; monthly since then; last', x: 33.3, y: 855.7, size: 7, italic: true, w: 153 },
    { text: 'data may be latest month only', x: 33.3, y: 862.7, size: 7, italic: true, w: 78 }
  ]
});

// ---------- Figure 12 ----------
makeChart({
  box: { x: 352, y: 656, w: 351, h: 231 }, plot: { l: 374.7, t: 661, r: 672.7, b: 872.7 },
  labels: f12Months,
  datasets: [
    series(f12Ur, BLUE, 2, 'y', { pointRadius: 1.8, pointStyle: 'circle' }),
    series(f12Steady, '#000', 1.5, 'y', { borderDash: [4, 3], pointRadius: 2.6, pointStyle: 'circle' }),
    series(f12ZeroHours, '#808080', 1.5, 'y', { pointRadius: 3.2, pointStyle: 'crossRot', pointBorderWidth: 1 }),
    series(f12Indexed, '#ff0000', 1, 'y', { borderDash: [1.5, 2], pointRadius: 2, pointStyle: 'triangle' })
  ],
  x: function (h) {
    return {
      type: 'category', offset: false,
      ticks: { autoSkip: false, maxRotation: 0, color: '#1a1a1a', padding: 3, font: { family: FONT, size: 8.5 },
        callback: function (v, i) { return i % 2 ? '' : f12Months[i]; } },
      grid: { drawOnChartArea: false, offset: false, tickLength: 3, tickColor: '#000' },
      border: { display: true, color: '#000', width: 1 },
      afterFit: function (s) { s.height = h; s.paddingLeft = 0; s.paddingRight = 0; }
    };
  },
  y: function (w) { return yAxis('left', 2, 20, 2, w, { grid: true }); },
  y2: function (w) { return yAxis('right', 2, 20, 2, w); },
  deco: [
    { text: '%', x: 383.7, y: 666.7 },
    { text: '%', x: 661.3, y: 666.7 },
    { line: [422, 667.7, 440.3], color: BLUE, width: 2, marker: 'circle', mr: 1.8 },
    { text: 'Unemployment rate (LHS)', x: 441.3, y: 667.7, w: 79 },
    { line: [422, 679, 440.3], color: '#000', width: 1.5, dash: [4, 3], marker: 'circle', mr: 2.4 },
    { text: 'Unemployment rate - steady participation (LHS)*', x: 441.3, y: 679, w: 147.3 },
    { line: [422, 690.7, 440.3], color: '#808080', width: 1.5, marker: 'crossRot', mr: 3 },
    { text: 'Unemployment rate - 0 hours + steady participation (LHS)**', x: 441.3, y: 690.7, w: 180 },
    { line: [422, 702.3, 440.3], color: '#ff0000', width: 1, dash: [1.5, 2], marker: 'triangle', mr: 2 },
    { text: 'Unemployment rate - jobs indexed to hours + steady participation***', x: 441.3, y: 702.3, w: 206.7 },
    { text: '* Unemployment rate assuming participation at Mar-20 level;', x: 378, y: 852.3, size: 7, italic: true, w: 159 },
    { text: '** Unemployment rate assuming participation at Mar-20 level and including zero hours worked as unemployed;', x: 378, y: 860.7, size: 7, italic: true, w: 289 },
    { text: '*** Unemployment rate indexing jobs to hours worked and assuming participation rate steady at Mar-20 level', x: 378, y: 868.3, size: 7, italic: true, w: 282.3 }
  ]
});
</script>
</body>
</html>
